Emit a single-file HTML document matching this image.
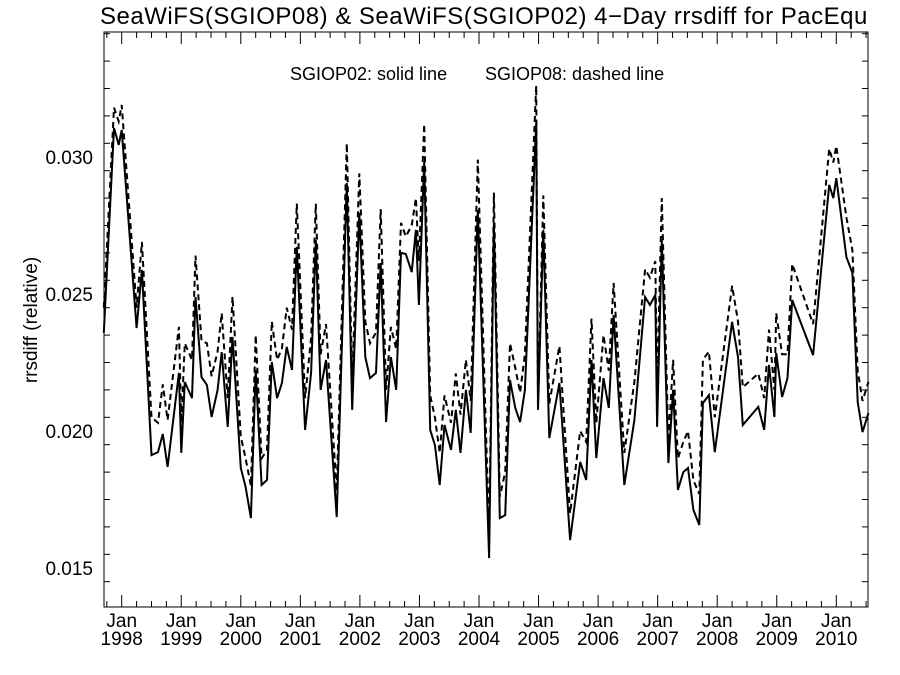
<!DOCTYPE html>
<html><head><meta charset="utf-8"><style>
html,body{margin:0;padding:0;background:#fff;}
svg{display:block;font-family:"Liberation Sans",Arial,sans-serif;}
</style></head><body>
<svg id="chart" width="900" height="675" viewBox="0 0 900 675">
<text x="100" y="24" font-size="24" letter-spacing="0.5" fill="#000">SeaWiFS(SGIOP08) &amp; SeaWiFS(SGIOP02) 4−Day rrsdiff for PacEqu</text>
<text x="290" y="80" font-size="18" fill="#000">SGIOP02: solid line</text>
<text x="485" y="80" font-size="18" fill="#000">SGIOP08: dashed line</text>
<text transform="translate(37,320) rotate(-90)" text-anchor="middle" font-size="19" fill="#000">rrsdiff (relative)</text>
<g id="axes"></g>
<g id="series"></g>
</svg>
<script>
const years = [1997.70,1997.87,1997.95,1998.00,1998.25,1998.34,1998.50,1998.61,1998.69,1998.77,1998.96,1999.00,1999.06,1999.18,1999.24,1999.34,1999.43,1999.51,1999.61,1999.68,1999.78,1999.86,2000.00,2000.08,2000.17,2000.25,2000.35,2000.44,2000.52,2000.61,2000.69,2000.77,2000.86,2000.94,2001.08,2001.18,2001.26,2001.34,2001.43,2001.61,2001.78,2001.87,2001.99,2002.09,2002.17,2002.27,2002.35,2002.44,2002.52,2002.61,2002.69,2002.77,2002.87,2002.94,2002.99,2003.08,2003.18,2003.26,2003.34,2003.42,2003.53,2003.61,2003.69,2003.78,2003.86,2003.98,2004.17,2004.25,2004.35,2004.44,2004.52,2004.61,2004.69,2004.77,2004.96,2004.99,2005.08,2005.18,2005.35,2005.53,2005.70,2005.80,2005.89,2005.97,2006.09,2006.18,2006.26,2006.44,2006.61,2006.79,2006.87,2006.96,2006.99,2007.07,2007.18,2007.26,2007.34,2007.43,2007.51,2007.60,2007.70,2007.76,2007.86,2007.96,2008.25,2008.35,2008.43,2008.69,2008.79,2008.87,2008.96,2008.99,2009.09,2009.18,2009.26,2009.61,2009.88,2009.95,2010.00,2010.17,2010.27,2010.36,2010.44,2010.54];
const solid = [.02358,.03106,.03044,.03099,.02376,.02588,.01912,.01923,.01989,.01869,.02212,.0192,.02179,.0212,.02489,.02197,.02168,.02051,.0215,.02288,.02015,.02343,.01865,.01796,.01682,.02223,.01803,.01821,.02252,.0212,.02175,.02307,.02223,.02672,.02004,.02212,.02697,.0215,.02259,.01686,.02905,.02077,.02796,.0227,.02193,.02212,.02613,.02033,.0227,.0215,.0265,.02646,.0258,.02734,.0246,.02982,.02004,.01949,.01803,.02022,.01931,.02077,.0192,.0215,.01993,.02807,.01536,.02759,.01682,.01693,.02186,.02084,.02033,.0215,.03124,.02077,.02734,.01974,.02175,.01602,.01887,.01821,.02259,.01901,.02193,.02084,.02423,.01803,.0204,.02489,.0246,.02496,.02015,.02697,.01883,.0215,.01785,.0185,.01865,.01712,.01657,.02102,.02131,.01923,.02398,.0227,.02022,.02088,.02004,.02241,.02051,.02285,.02124,.02193,.02478,.02277,.02898,.0285,.02923,.02635,.02577,.02106,.01996,.02066];
const dashed = [.0245,.0318,.0313,.0319,.0245,.0269,.0205,.0203,.0217,.0204,.0238,.0203,.0232,.0226,.0264,.0233,.0232,.0220,.0229,.0243,.0212,.0249,.0198,.0190,.0180,.0235,.0190,.0193,.0240,.0226,.0230,.0245,.0237,.0283,.0212,.0234,.0283,.0228,.0239,.0178,.0305,.0218,.0294,.0240,.0232,.0236,.0281,.0215,.0238,.0230,.0276,.0271,.0275,.0285,.0262,.0312,.0213,.0205,.0192,.0213,.0203,.0221,.0206,.0226,.0211,.0299,.0162,.0287,.0176,.0185,.0232,.0223,.0214,.0228,.0326,.0210,.0286,.0210,.0231,.0170,.0200,.0196,.0241,.0203,.0235,.0222,.0254,.0192,.0218,.0259,.0256,.0262,.0215,.0285,.0196,.0226,.0190,.0196,.0200,.0182,.0177,.0226,.0229,.0205,.0253,.0240,.0216,.0221,.0212,.0237,.0215,.0243,.0228,.0228,.0261,.0239,.0303,.0298,.0304,.0278,.0266,.0222,.0211,.0218];
const yTickValues = [0.015,0.020,0.025,0.030];
const yTickLabels = ["0.015","0.020","0.025","0.030"];
const xTickYears = [1998,1999,2000,2001,2002,2003,2004,2005,2006,2007,2008,2009,2010];

const L=104,R=868,T=32,B=607;
function xs(yr){return 121.7+(yr-1998)*59.55;}
function ys(v){return 157+(0.030-v)/0.005*137;}
const NS="http://www.w3.org/2000/svg";
function mk(tag,attrs,parent){const e=document.createElementNS(NS,tag);for(const k in attrs)e.setAttribute(k,attrs[k]);parent.appendChild(e);return e;}
const axes=document.getElementById('axes');
const frame=mk('rect',{x:L,y:T,width:R-L,height:B-T,fill:'none',stroke:'#000','stroke-width':1},axes);


for(let i=0;;i++){const v=0.0135+i*0.001;const y=ys(v);if(y<T)break;if(y>B)continue;
 const major=yTickValues.some(t=>Math.abs(t-v)<1e-6);const len=major?12:6;
 const t1=mk('line',{x1:L,x2:L+len,y1:y,y2:y,stroke:'#000','stroke-width':1},axes);
 
 
 const t2=mk('line',{x1:R,x2:R-len,y1:y,y2:y,stroke:'#000','stroke-width':1},axes);
 
 }
yTickValues.forEach((v,i)=>{const t=mk('text',{x:93,y:ys(v)+7,'text-anchor':'end','font-size':19},axes);t.textContent=yTickLabels[i];
 
 });
for(let q=-1;q<=51;q++){const yr=1998+q/4;const x=xs(yr);if(x<L||x>R)continue;const major=q%4===0;const len=major?12:6;
 const a=mk('line',{x1:x,x2:x,y1:B,y2:B-len,stroke:'#000','stroke-width':1},axes);
 
 
 const b=mk('line',{x1:x,x2:x,y1:T,y2:T+len,stroke:'#000','stroke-width':1},axes);
 
 }
xTickYears.forEach(yr=>{const x=xs(yr);
 const t=mk('text',{x:x,y:627,'text-anchor':'middle','font-size':19},axes);t.textContent='Jan';
 
 
 const t2=mk('text',{x:x,y:645,'text-anchor':'middle','font-size':19},axes);t2.textContent=String(yr);
 
 });
const ser=document.getElementById('series');
function pts(arr){return arr.map((v,i)=>xs(years[i]).toFixed(1)+','+ys(v).toFixed(1)).join(' ');}
const ld=mk('polyline',{points:pts(dashed),fill:'none',stroke:'#000','stroke-width':2,'stroke-dasharray':'6,4'},ser);


const ls=mk('polyline',{points:pts(solid),fill:'none',stroke:'#000','stroke-width':2},ser);


</script>
</body></html>
